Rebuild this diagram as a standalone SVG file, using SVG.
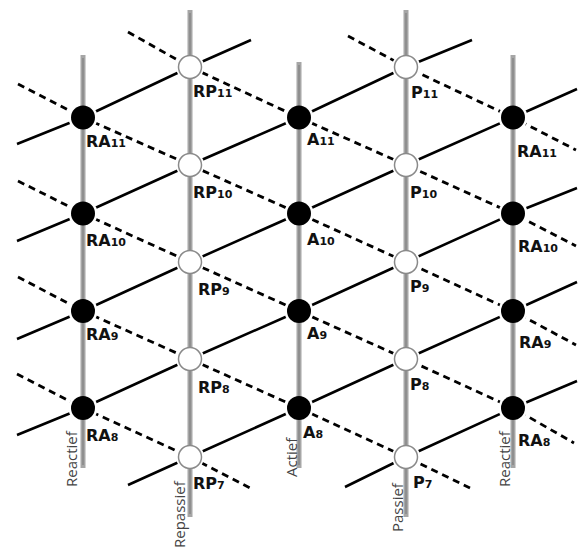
<svg xmlns="http://www.w3.org/2000/svg" width="578" height="547" viewBox="0 0 578 547">
<style>
.axis{stroke:#a6a6a6;stroke-width:5;stroke-linecap:butt;fill:none}
.axisc{stroke:#8f8f8f;stroke-width:2;fill:none}
.solid{stroke:#000;stroke-width:2.6;fill:none;stroke-linejoin:round}
.dash{stroke:#000;stroke-width:2.8;fill:none;stroke-dasharray:7 5;stroke-linejoin:round}
.halo{fill:#fff}
.blk{fill:#000}
.wht{fill:#fff;stroke:#8a8a8a;stroke-width:1.5}
.lbl{font-family:"DejaVu Sans","Liberation Sans",sans-serif;font-weight:bold;font-size:16px;fill:#111}
.sub{font-size:11px}
.ax{font-family:"Open Sans","Liberation Sans",sans-serif;font-size:15px;fill:#444}
</style>
<rect width="578" height="547" fill="#fff"/>
<g id="connectors">
<polyline class="solid" points="17,144 83,117.5 190,67 251,40"/>
<polyline class="solid" points="17,241 83,213.5 190,165 299,117.5 406,67 472,40"/>
<polyline class="solid" points="17,339 83,311 190,262 299,213.5 406,165 513,117.5 577,89"/>
<polyline class="solid" points="17,435 83,408 190,359 299,311 406,262 513,213.5 577,188"/>
<polyline class="solid" points="128,485 190,457 299,408 406,359 513,311 577,282"/>
<polyline class="solid" points="345,487 406,457 513,408 577,381"/>
<polyline class="dash" points="128,32 190,67 299,117.5 406,165 513,213.5 576,246"/>
<polyline class="dash" points="348,36 406,67 513,117.5 576,150"/>
<polyline class="dash" points="18,84 83,117.5 190,165 299,213.5 406,262 513,311 576,345"/>
<polyline class="dash" points="18,181 83,213.5 190,262 299,311 406,359 513,408 574,443"/>
<polyline class="dash" points="18,277 83,311 190,359 299,408 406,457 470,488"/>
<polyline class="dash" points="17,374 83,408 190,457 250,488"/>
</g>
<g id="halos">
<circle class="halo" cx="83" cy="117.5" r="14.5"/><circle class="halo" cx="83" cy="213.5" r="14.5"/><circle class="halo" cx="83" cy="311" r="14.5"/><circle class="halo" cx="83" cy="408" r="14.5"/>
<circle class="halo" cx="190" cy="67" r="14"/><circle class="halo" cx="190" cy="165" r="14"/><circle class="halo" cx="190" cy="262" r="14"/><circle class="halo" cx="190" cy="359" r="14"/><circle class="halo" cx="190" cy="457" r="14"/>
<circle class="halo" cx="299" cy="117.5" r="14.5"/><circle class="halo" cx="299" cy="213.5" r="14.5"/><circle class="halo" cx="299" cy="311" r="14.5"/><circle class="halo" cx="299" cy="408" r="14.5"/>
<circle class="halo" cx="406" cy="67" r="14"/><circle class="halo" cx="406" cy="165" r="14"/><circle class="halo" cx="406" cy="262" r="14"/><circle class="halo" cx="406" cy="359" r="14"/><circle class="halo" cx="406" cy="457" r="14"/>
<circle class="halo" cx="513" cy="117.5" r="14.5"/><circle class="halo" cx="513" cy="213.5" r="14.5"/><circle class="halo" cx="513" cy="311" r="14.5"/><circle class="halo" cx="513" cy="408" r="14.5"/>
</g>
<g id="axes">
<line class="axis" x1="83" y1="55" x2="83" y2="468"/>
<line class="axis" x1="190" y1="10" x2="190" y2="517"/>
<line class="axis" x1="299" y1="62" x2="299" y2="468"/>
<line class="axis" x1="406" y1="10" x2="406" y2="517"/>
<line class="axis" x1="513" y1="55" x2="513" y2="468"/>
<line class="axisc" x1="83" y1="58" x2="83" y2="465"/>
<line class="axisc" x1="190" y1="13" x2="190" y2="514"/>
<line class="axisc" x1="299" y1="65" x2="299" y2="465"/>
<line class="axisc" x1="406" y1="13" x2="406" y2="514"/>
<line class="axisc" x1="513" y1="58" x2="513" y2="465"/>
<text class="ax" transform="translate(77,487) rotate(-90)">Reactief</text>
<text class="ax" transform="translate(185,548) rotate(-90)">Repassief</text>
<text class="ax" transform="translate(297,477) rotate(-90)">Actief</text>
<text class="ax" transform="translate(403,532) rotate(-90)">Passief</text>
<text class="ax" transform="translate(510,487) rotate(-90)">Reactief</text>
</g>
<g id="RA11L"><circle class="blk" cx="83" cy="117.5" r="12"/><text class="lbl" x="86" y="147">RA<tspan class="sub">11</tspan></text></g>
<g id="RA10L"><circle class="blk" cx="83" cy="213.5" r="12"/><text class="lbl" x="86" y="246">RA<tspan class="sub">10</tspan></text></g>
<g id="RA9L"><circle class="blk" cx="83" cy="311" r="12"/><text class="lbl" x="86" y="340">RA<tspan class="sub">9</tspan></text></g>
<g id="RA8L"><circle class="blk" cx="83" cy="408" r="12"/><text class="lbl" x="86" y="441">RA<tspan class="sub">8</tspan></text></g>
<g id="RP11"><circle class="wht" cx="190" cy="67" r="11.5"/><text class="lbl" x="193" y="97">RP<tspan class="sub">11</tspan></text></g>
<g id="RP10"><circle class="wht" cx="190" cy="165" r="11.5"/><text class="lbl" x="193" y="198">RP<tspan class="sub">10</tspan></text></g>
<g id="RP9"><circle class="wht" cx="190" cy="262" r="11.5"/><text class="lbl" x="198" y="295">RP<tspan class="sub">9</tspan></text></g>
<g id="RP8"><circle class="wht" cx="190" cy="359" r="11.5"/><text class="lbl" x="198" y="393">RP<tspan class="sub">8</tspan></text></g>
<g id="RP7"><circle class="wht" cx="190" cy="457" r="11.5"/><text class="lbl" x="193" y="489">RP<tspan class="sub">7</tspan></text></g>
<g id="A11"><circle class="blk" cx="299" cy="117.5" r="12"/><text class="lbl" x="307" y="145">A<tspan class="sub">11</tspan></text></g>
<g id="A10"><circle class="blk" cx="299" cy="213.5" r="12"/><text class="lbl" x="307" y="245">A<tspan class="sub">10</tspan></text></g>
<g id="A9"><circle class="blk" cx="299" cy="311" r="12"/><text class="lbl" x="307" y="339">A<tspan class="sub">9</tspan></text></g>
<g id="A8"><circle class="blk" cx="299" cy="408" r="12"/><text class="lbl" x="303" y="438">A<tspan class="sub">8</tspan></text></g>
<g id="P11"><circle class="wht" cx="406" cy="67" r="11.5"/><text class="lbl" x="411" y="98">P<tspan class="sub">11</tspan></text></g>
<g id="P10"><circle class="wht" cx="406" cy="165" r="11.5"/><text class="lbl" x="410" y="198">P<tspan class="sub">10</tspan></text></g>
<g id="P9"><circle class="wht" cx="406" cy="262" r="11.5"/><text class="lbl" x="410" y="292">P<tspan class="sub">9</tspan></text></g>
<g id="P8"><circle class="wht" cx="406" cy="359" r="11.5"/><text class="lbl" x="410" y="390">P<tspan class="sub">8</tspan></text></g>
<g id="P7"><circle class="wht" cx="406" cy="457" r="11.5"/><text class="lbl" x="413" y="488">P<tspan class="sub">7</tspan></text></g>
<g id="RA11R"><circle class="blk" cx="513" cy="117.5" r="12"/><text class="lbl" x="517" y="157">RA<tspan class="sub">11</tspan></text></g>
<g id="RA10R"><circle class="blk" cx="513" cy="213.5" r="12"/><text class="lbl" x="518" y="252">RA<tspan class="sub">10</tspan></text></g>
<g id="RA9R"><circle class="blk" cx="513" cy="311" r="12"/><text class="lbl" x="519" y="348">RA<tspan class="sub">9</tspan></text></g>
<g id="RA8R"><circle class="blk" cx="513" cy="408" r="12"/><text class="lbl" x="518" y="446">RA<tspan class="sub">8</tspan></text></g>
</svg>
